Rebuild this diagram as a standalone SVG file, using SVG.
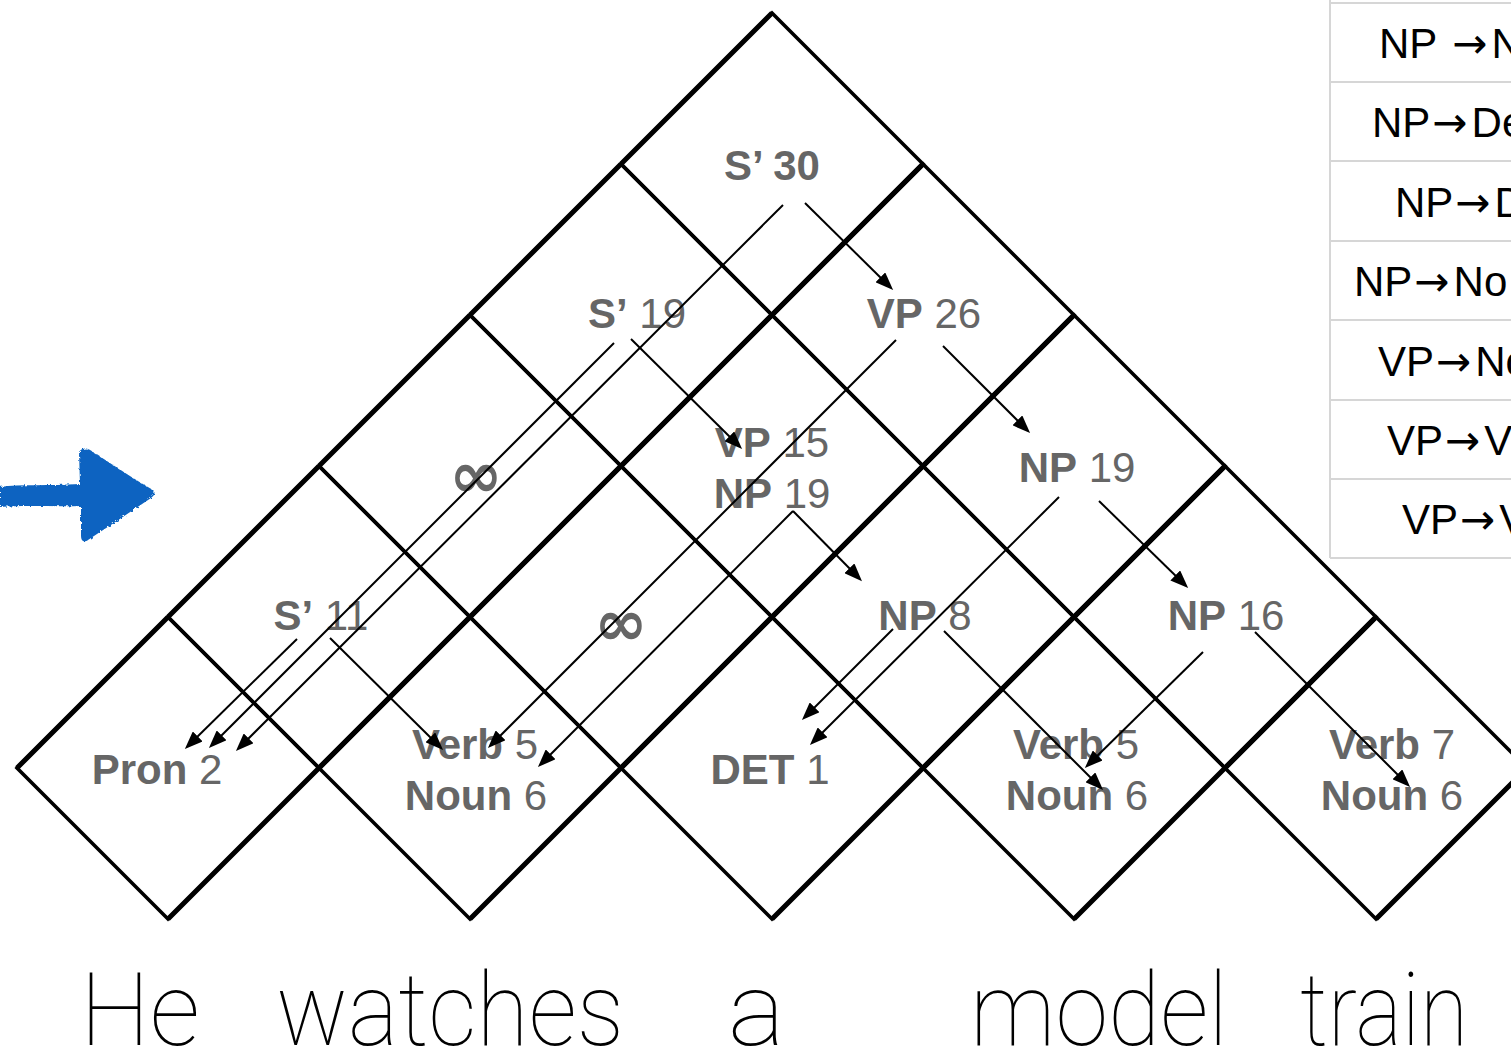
<svg xmlns="http://www.w3.org/2000/svg" width="1511" height="1054" viewBox="0 0 1511 1054">
<style>
.cell{fill:none;stroke:#000;stroke-width:3.6;stroke-linejoin:miter}
.fw{fill:none;stroke:#000;stroke-width:5}
.lb{fill:#666;font-family:'Liberation Sans',Arial,sans-serif;font-size:42px;text-anchor:middle}
.b{font-weight:bold}
.inf{fill:#666;font-family:'DejaVu Sans',sans-serif;font-size:64px;font-weight:bold;text-anchor:middle}
.cn{fill:none;stroke:#000;stroke-width:2}
.word{fill:#000;font-family:Roboto,Lato,'DejaVu Sans',sans-serif;font-weight:100;font-size:102px}
.rule{fill:#000;font-family:'Liberation Sans',Arial,sans-serif;font-size:42px}
.ar{font-family:'DejaVu Sans',sans-serif}
.tl{stroke:#d6d6d6;stroke-width:2}
</style>
<defs>
<marker id="ah" markerUnits="userSpaceOnUse" markerWidth="18" markerHeight="14" viewBox="0 0 18 14" refX="8" refY="7" orient="auto">
<path d="M0,0 L18,7 L0,14 z" fill="#000"/>
</marker>
<filter id="rough" x="-10%" y="-10%" width="120%" height="120%">
<feTurbulence type="fractalNoise" baseFrequency="0.35" numOctaves="2" seed="3"/>
<feDisplacementMap in="SourceGraphic" scale="4"/>
</filter>
</defs>
<rect width="1511" height="1054" fill="#fff"/>

<g id="rule-table">
<line class="tl" x1="1330" y1="0" x2="1330" y2="558"/>
<line class="tl" x1="1330" y1="3" x2="1511" y2="3"/>
<line class="tl" x1="1330" y1="82" x2="1511" y2="82"/>
<line class="tl" x1="1330" y1="161" x2="1511" y2="161"/>
<line class="tl" x1="1330" y1="241" x2="1511" y2="241"/>
<line class="tl" x1="1330" y1="320" x2="1511" y2="320"/>
<line class="tl" x1="1330" y1="400" x2="1511" y2="400"/>
<line class="tl" x1="1330" y1="479" x2="1511" y2="479"/>
<line class="tl" x1="1330" y1="558" x2="1511" y2="558"/>
<text class="rule" x="1379" y="58">NP <tspan class="ar" dx="4">→</tspan><tspan dx="4">N</tspan></text>
<text class="rule" x="1372" y="137">NP<tspan class="ar" dx="2">→</tspan><tspan dx="4">De</tspan></text>
<text class="rule" x="1395" y="217">NP<tspan class="ar" dx="2">→</tspan><tspan dx="4">D</tspan></text>
<text class="rule" x="1354" y="296">NP<tspan class="ar" dx="2">→</tspan><tspan dx="4">No</tspan></text>
<text class="rule" x="1378" y="376">VP<tspan class="ar" dx="2">→</tspan><tspan dx="4">No</tspan></text>
<text class="rule" x="1387" y="455">VP<tspan class="ar" dx="2">→</tspan><tspan dx="4">Ve</tspan></text>
<text class="rule" x="1402" y="534">VP<tspan class="ar" dx="2">→</tspan><tspan dx="4">V</tspan></text>
</g>

<g id="blue-arrow" filter="url(#rough)">
<path d="M0,487 C20,484 50,486 80,484 L79,452 C83,447 88,448 93,452 C115,466 135,480 153,490 C156,493 154,496 151,498 C130,512 108,527 88,540 C84,543 81,541 81,536 L81,506 C55,507 25,505 0,507 Z" fill="#0b64c1"/>
</g>

<!-- row 0 -->
<g id="cell-pron">
<polygon class="cell" points="17,768 168,617 319,768 168,919"/>
<path class="fw" d="M17,768 L168,617 M168,919 L319,768"/>
<text class="lb" x="157" y="784"><tspan class="b">Pron</tspan> 2</text>
</g>
<g id="cell-watches">
<polygon class="cell" points="319,768 470,617 621,768 470,919"/>
<path class="fw" d="M319,768 L470,617 M470,919 L621,768"/>
<text class="lb" x="475" y="759"><tspan class="b">Verb</tspan> 5</text>
<text class="lb" x="476" y="810"><tspan class="b">Noun</tspan> 6</text>
</g>
<g id="cell-a">
<polygon class="cell" points="621,768 772,617 923,768 772,919"/>
<path class="fw" d="M621,768 L772,617 M772,919 L923,768"/>
<text class="lb" x="770" y="784"><tspan class="b">DET</tspan> 1</text>
</g>
<g id="cell-model">
<polygon class="cell" points="923,768 1074,617 1225,768 1074,919"/>
<path class="fw" d="M923,768 L1074,617 M1074,919 L1225,768"/>
<text class="lb" x="1076" y="759"><tspan class="b">Verb</tspan> 5</text>
<text class="lb" x="1077" y="810"><tspan class="b">Noun</tspan> 6</text>
</g>
<g id="cell-train">
<polygon class="cell" points="1225,768 1376,617 1527,768 1376,919"/>
<path class="fw" d="M1225,768 L1376,617 M1376,919 L1527,768"/>
<text class="lb" x="1392" y="759"><tspan class="b">Verb</tspan> 7</text>
<text class="lb" x="1392" y="810"><tspan class="b">Noun</tspan> 6</text>
</g>
<!-- row 1 -->
<g id="cell-he-watches">
<polygon class="cell" points="168,617 319,466 470,617 319,768"/>
<path class="fw" d="M168,617 L319,466 M319,768 L470,617"/>
<text class="lb" x="321" y="630"><tspan class="b">S’</tspan> 11</text>
</g>
<g id="cell-watches-a">
<polygon class="cell" points="470,617 621,466 772,617 621,768"/>
<path class="fw" d="M470,617 L621,466 M621,768 L772,617"/>
<text class="inf" x="621" y="645">∞</text>
</g>
<g id="cell-a-model">
<polygon class="cell" points="772,617 923,466 1074,617 923,768"/>
<path class="fw" d="M772,617 L923,466 M923,768 L1074,617"/>
<text class="lb" x="925" y="630"><tspan class="b">NP</tspan> 8</text>
</g>
<g id="cell-model-train">
<polygon class="cell" points="1074,617 1225,466 1376,617 1225,768"/>
<path class="fw" d="M1074,617 L1225,466 M1225,768 L1376,617"/>
<text class="lb" x="1226" y="630"><tspan class="b">NP</tspan> 16</text>
</g>
<!-- row 2 -->
<g id="cell-he-a">
<polygon class="cell" points="319,466 470,315 621,466 470,617"/>
<path class="fw" d="M319,466 L470,315 M470,617 L621,466"/>
<text class="inf" x="476" y="497">∞</text>
</g>
<g id="cell-watches-model">
<polygon class="cell" points="621,466 772,315 923,466 772,617"/>
<path class="fw" d="M621,466 L772,315 M772,617 L923,466"/>
<text class="lb" x="772" y="457"><tspan class="b">VP</tspan> 15</text>
<text class="lb" x="772" y="508"><tspan class="b">NP</tspan> 19</text>
</g>
<g id="cell-a-train">
<polygon class="cell" points="923,466 1074,315 1225,466 1074,617"/>
<path class="fw" d="M923,466 L1074,315 M1074,617 L1225,466"/>
<text class="lb" x="1077" y="482"><tspan class="b">NP</tspan> 19</text>
</g>
<!-- row 3 -->
<g id="cell-he-model">
<polygon class="cell" points="470,315 621,164 772,315 621,466"/>
<path class="fw" d="M470,315 L621,164 M621,466 L772,315"/>
<text class="lb" x="637" y="328"><tspan class="b">S’</tspan> 19</text>
</g>
<g id="cell-watches-train">
<polygon class="cell" points="772,315 923,164 1074,315 923,466"/>
<path class="fw" d="M772,315 L923,164 M923,466 L1074,315"/>
<text class="lb" x="924" y="328"><tspan class="b">VP</tspan> 26</text>
</g>
<!-- row 4 -->
<g id="cell-he-train">
<polygon class="cell" points="621,164 772,13 923,164 772,315"/>
<path class="fw" d="M621,164 L772,13 M772,315 L923,164"/>
<text class="lb" x="772" y="180"><tspan class="b">S’ 30</tspan></text>
</g>

<g id="connectors">
<line class="cn" x1="783" y1="205" x2="243" y2="744" marker-end="url(#ah)"/>
<line class="cn" x1="805" y1="203" x2="886" y2="283" marker-end="url(#ah)"/>
<line class="cn" x1="614" y1="343" x2="216" y2="741" marker-end="url(#ah)"/>
<line class="cn" x1="631" y1="339" x2="735" y2="442" marker-end="url(#ah)"/>
<line class="cn" x1="297" y1="639" x2="192" y2="742" marker-end="url(#ah)"/>
<line class="cn" x1="330" y1="638" x2="436" y2="743" marker-end="url(#ah)"/>
<line class="cn" x1="896" y1="340" x2="495" y2="741" marker-end="url(#ah)"/>
<line class="cn" x1="943" y1="346" x2="1023" y2="426" marker-end="url(#ah)"/>
<line class="cn" x1="793" y1="511" x2="545" y2="760" marker-end="url(#ah)"/>
<line class="cn" x1="793" y1="511" x2="855" y2="574" marker-end="url(#ah)"/>
<line class="cn" x1="1059" y1="497" x2="817" y2="738" marker-end="url(#ah)"/>
<line class="cn" x1="1099" y1="501" x2="1181" y2="581" marker-end="url(#ah)"/>
<line class="cn" x1="893" y1="629" x2="809" y2="713" marker-end="url(#ah)"/>
<line class="cn" x1="944" y1="631" x2="1096" y2="783" marker-end="url(#ah)"/>
<line class="cn" x1="1203" y1="652" x2="1092" y2="761" marker-end="url(#ah)"/>
<line class="cn" x1="1255" y1="632" x2="1403" y2="780" marker-end="url(#ah)"/>
</g>

<g id="words">
<text class="word" x="80" y="1045" textLength="120" lengthAdjust="spacingAndGlyphs">He</text>
<text class="word" x="276" y="1045" textLength="348" lengthAdjust="spacingAndGlyphs">watches</text>
<text class="word" x="728" y="1045" textLength="57" lengthAdjust="spacingAndGlyphs">a</text>
<text class="word" x="970" y="1045" textLength="258" lengthAdjust="spacingAndGlyphs">model</text>
<text class="word" x="1300" y="1045" textLength="168" lengthAdjust="spacingAndGlyphs">train</text>
</g>
</svg>
